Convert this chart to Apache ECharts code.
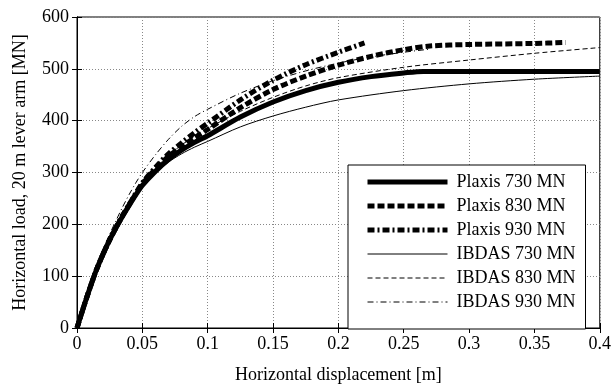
<!DOCTYPE html>
<html>
<head>
<meta charset="utf-8">
<script src="https://cdn.jsdelivr.net/npm/echarts@6/dist/echarts.min.js"></script>
<style>
  html, body { margin: 0; padding: 0; background: #fff; }
  #chart { width: 614px; height: 389px; }
</style>
</head>
<body>
<div id="chart"></div>
<script>
// Load–displacement curves: horizontal displacement [m] vs horizontal load [MN]
const xTicks = [0, 0.05, 0.1, 0.15, 0.2, 0.25, 0.3, 0.35, 0.4];
const yTicks = [0, 100, 200, 300, 400, 500, 600];

const plaxis730X = [0, 0.005, 0.01, 0.015, 0.02, 0.025, 0.03, 0.035, 0.04, 0.045, 0.05, 0.06, 0.07, 0.08, 0.09, 0.1, 0.125, 0.15, 0.175, 0.2, 0.225, 0.25, 0.265, 0.3, 0.35, 0.4];
const plaxis730Y = [0, 40, 78, 113, 143, 170, 194, 216, 237, 257, 275, 302, 325, 343, 358, 371, 407, 436, 458, 474, 485, 492, 495, 495, 495, 495];

const plaxis830X = [0, 0.005, 0.01, 0.015, 0.02, 0.025, 0.03, 0.035, 0.04, 0.045, 0.05, 0.06, 0.07, 0.08, 0.09, 0.1, 0.125, 0.15, 0.175, 0.2, 0.225, 0.25, 0.27, 0.3, 0.35, 0.374];
const plaxis830Y = [0, 40, 78, 113, 143, 170, 194, 217, 238, 259, 278, 307, 331, 350, 367, 383, 425, 460, 486, 507, 524, 537, 544, 547, 549, 551];

const plaxis930X = [0, 0.005, 0.01, 0.015, 0.02, 0.025, 0.03, 0.035, 0.04, 0.045, 0.05, 0.06, 0.07, 0.08, 0.09, 0.1, 0.125, 0.15, 0.175, 0.2, 0.22];
const plaxis930Y = [0, 40, 78, 113, 143, 170, 195, 218, 239, 260, 280, 310, 336, 357, 377, 395, 440, 478, 508, 532, 550];

const ibdas730X = [0, 0.005, 0.01, 0.015, 0.02, 0.025, 0.03, 0.035, 0.04, 0.045, 0.05, 0.06, 0.07, 0.08, 0.09, 0.1, 0.125, 0.15, 0.175, 0.2, 0.25, 0.3, 0.35, 0.4];
const ibdas730Y = [0, 40, 78, 113, 143, 170, 194, 216, 237, 256, 273, 299, 320, 336, 349, 360, 388, 409, 426, 440, 458, 471, 480, 486];

const ibdas830X = [0, 0.005, 0.01, 0.015, 0.02, 0.025, 0.03, 0.035, 0.04, 0.045, 0.05, 0.06, 0.07, 0.08, 0.09, 0.1, 0.125, 0.15, 0.175, 0.2, 0.25, 0.3, 0.35, 0.4];
const ibdas830Y = [0, 40, 79, 114, 145, 172, 197, 219, 240, 260, 279, 308, 333, 353, 370, 385, 418, 445, 467, 483, 503, 517, 530, 541];

const ibdas930X = [0, 0.005, 0.01, 0.015, 0.02, 0.025, 0.03, 0.035, 0.04, 0.045, 0.05, 0.06, 0.07, 0.08, 0.09, 0.1, 0.125, 0.15, 0.175, 0.2, 0.225, 0.25, 0.27];
const ibdas930Y = [0, 42, 82, 118, 152, 181, 208, 234, 258, 280, 300, 334, 364, 389, 408, 422, 453, 477, 496, 511, 523, 532, 538];

const seriesNames = ['Plaxis 730 MN', 'Plaxis 830 MN', 'Plaxis 930 MN', 'IBDAS 730 MN', 'IBDAS 830 MN', 'IBDAS 930 MN'];

function pairs(xs, ys) { return xs.map((x, i) => [x, ys[i]]); }

const FONT = 'Liberation Serif';
const FS = 18;
const curves = [
  { data: pairs(plaxis730X, plaxis730Y), width: 5, type: 'solid' },
  { data: pairs(plaxis830X, plaxis830Y), width: 5, type: [7, 3] },
  { data: pairs(plaxis930X, plaxis930Y), width: 5, type: [7, 3, 2, 3] },
  { data: pairs(ibdas730X, ibdas730Y), width: 1, type: 'solid' },
  { data: pairs(ibdas830X, ibdas830Y), width: 1, type: [5, 3] },
  { data: pairs(ibdas930X, ibdas930Y), width: 1, type: [6, 3, 1, 3] }
];

const chart = echarts.init(document.getElementById('chart'), null, { renderer: 'canvas' });

const gridLine = { show: true, lineStyle: { color: '#888', type: [1, 2], width: 1 } };
const blackAxis = { show: true, lineStyle: { color: '#000', width: 1 } };
const innerTick = { show: true, inside: true, length: 5, lineStyle: { color: '#000' } };

chart.setOption({
  animation: false,
  backgroundColor: '#fff',
  grid: { left: 77, right: 12, top: 17, bottom: 56, show: true, borderColor: '#000', borderWidth: 1, backgroundColor: 'transparent' },
  legend: {
    data: seriesNames.map((name, i) => ({
      name,
      lineStyle: { width: curves[i].width, type: curves[i].type, color: '#000' }
    })),
    orient: 'vertical',
    left: 348,
    top: 165,
    padding: [8, 10, 18, 17],
    itemWidth: 80,
    itemHeight: 18,
    itemGap: 6,
    backgroundColor: '#fff',
    borderColor: '#000',
    borderWidth: 1,
    itemStyle: { color: 'rgba(0,0,0,0)', borderWidth: 0, opacity: 0 },
    textStyle: { fontFamily: FONT, fontSize: FS, lineHeight: 18, color: '#000', padding: [0, 0, 0, 4] }
  },
  xAxis: [{
    type: 'value', min: 0, max: 0.4, interval: 0.05,
    name: 'Horizontal displacement [m]', nameLocation: 'middle', nameGap: 38,
    nameTextStyle: { fontFamily: FONT, fontSize: FS, color: '#000' },
    axisLine: blackAxis, axisTick: innerTick,
    axisLabel: { fontFamily: FONT, fontSize: FS, color: '#000', margin: 7, formatter: v => String(+v.toFixed(2)) },
    splitLine: gridLine
  }, {
    type: 'value', min: 0, max: 0.4, interval: 0.05, position: 'top',
    axisLine: blackAxis, axisTick: innerTick,
    axisLabel: { show: false }, splitLine: { show: false }
  }],
  yAxis: [{
    type: 'value', min: 0, max: 600, interval: 100,
    name: 'Horizontal load, 20 m lever arm [MN]', nameLocation: 'middle', nameGap: 48,
    nameTextStyle: { fontFamily: FONT, fontSize: FS, color: '#000' },
    axisLine: blackAxis, axisTick: innerTick,
    axisLabel: { fontFamily: FONT, fontSize: FS, color: '#000', margin: 8 },
    splitLine: gridLine
  }, {
    type: 'value', min: 0, max: 600, interval: 100, position: 'right',
    axisLine: blackAxis, axisTick: innerTick,
    axisLabel: { show: false }, splitLine: { show: false }
  }],
  series: curves.map((c, i) => ({
    name: seriesNames[i],
    type: 'line',
    data: c.data,
    smooth: 0.3,
    symbol: 'none',
    color: '#000',
    lineStyle: { color: '#000', width: c.width, type: c.type },
    z: 10 - i
  }))
});
</script>
</body>
</html>
